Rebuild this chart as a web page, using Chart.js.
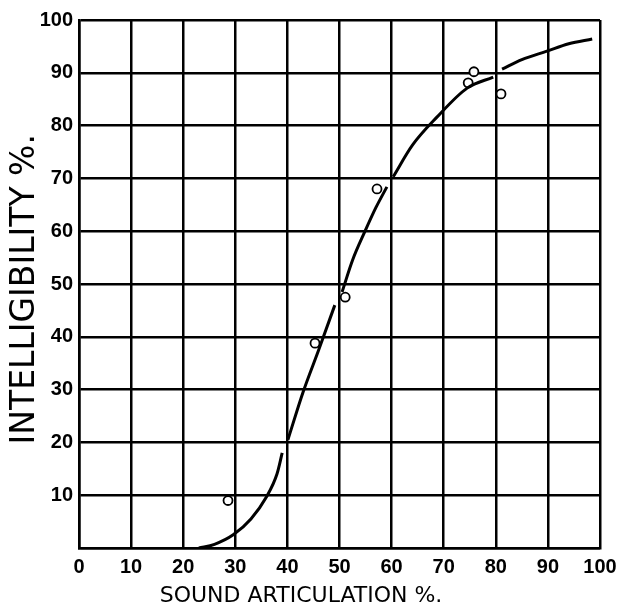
<!DOCTYPE html>
<html>
<head>
<meta charset="utf-8">
<title>Intelligibility vs sound articulation</title>
<script src="https://cdn.jsdelivr.net/npm/chart.js@4"></script>
<style>
  html, body { margin: 0; padding: 0; background: #fff; }
  #chart { display: block; }
</style>
</head>
<body>
<canvas id="chart" width="619" height="608"></canvas>
<script>
// ─── DATA ──────────────────────────────────────────────────
// fitted curve (null = small break in the drawn line)
const curveX = [23, 26, 29.6, 33, 36, 38, 39, 39.6,
                40.1, 43, 46, 49.1, 49.8,
                50.5, 52.5, 54.9, 57, 59.1, 59.7,
                60.3, 64, 68.7, 74.5, 79.5, 80.4,
                81.2, 85, 89.8, 94, 98.5];
const curveY = [0, 0.7, 2.5, 5.5, 9.7, 14, 18, null,
                20.5, 29.5, 37.5, 46, null,
                48.5, 54.5, 60, 64.5, 68.4, null,
                70.3, 76.3, 81.6, 87.1, 89.2, null,
                90.7, 92.5, 94.1, 95.5, 96.4];

// measured points (open circles)
const obsX = [28.6, 45.3, 51.1, 57.2, 74.7, 75.8, 81];
const obsY = [9, 38.8, 47.5, 68, 88.1, 90.2, 86];

const X_TITLE = 'SOUND ARTICULATION %.';
const Y_TITLE = 'INTELLIGIBILITY %.';

// ─── CHART ─────────────────────────────────────────────────
const INK = '#000';
const tickFont = { family: 'Liberation Sans', size: 20, weight: 'bold' };
// the original titles sit a little off-centre; trailing blanks shift them
const pad = n => '\u00a0'.repeat(n);

new Chart(document.getElementById('chart'), {
  type: 'scatter',
  data: {
    datasets: [
      {
        label: 'curve',
        data: curveX.map((x, i) => ({ x, y: curveY[i] })),
        showLine: true,
        spanGaps: false,
        borderColor: INK,
        borderWidth: 3,
        pointRadius: 0,
        cubicInterpolationMode: 'monotone',
      },
      {
        label: 'observed',
        data: obsX.map((x, i) => ({ x, y: obsY[i] })),
        showLine: false,
        pointRadius: 4.5,
        pointBorderWidth: 1.8,
        pointBorderColor: INK,
        pointBackgroundColor: '#fff',
      },
    ],
  },
  options: {
    responsive: false,
    animation: false,
    layout: { padding: { top: 20, right: 19, left: 0, bottom: 0 } },
    plugins: { legend: { display: false }, tooltip: { enabled: false } },
    scales: {
      x: {
        type: 'linear',
        min: 0,
        max: 100,
        afterFit: s => { s.height = 60; s.paddingLeft = 0; s.paddingRight = 0; },
        grid: { color: INK, lineWidth: 2.5, drawTicks: false },
        border: { color: INK, width: 2.5 },
        ticks: { stepSize: 10, color: INK, font: tickFont, padding: 7, maxRotation: 0 },
        title: {
          display: true,
          text: X_TITLE + pad(11),
          color: INK,
          font: { family: 'DejaVu Sans', size: 22, lineHeight: 1 },
          padding: { top: 0, bottom: 1 },
        },
      },
      y: {
        min: 0,
        max: 100,
        afterFit: s => { s.width = 79; },
        grid: { color: INK, lineWidth: 2.5, drawTicks: false },
        border: { color: INK, width: 2.5 },
        ticks: {
          stepSize: 10,
          color: INK,
          font: tickFont,
          padding: 6,
          callback: v => (v === 0 ? '' : v),
        },
        title: {
          display: true,
          text: Y_TITLE + pad(1),
          color: INK,
          font: { family: 'DejaVu Sans', size: 33, lineHeight: 1 },
          padding: { top: 9, bottom: 0 },
        },
      },
    },
  },
});
</script>
</body>
</html>
